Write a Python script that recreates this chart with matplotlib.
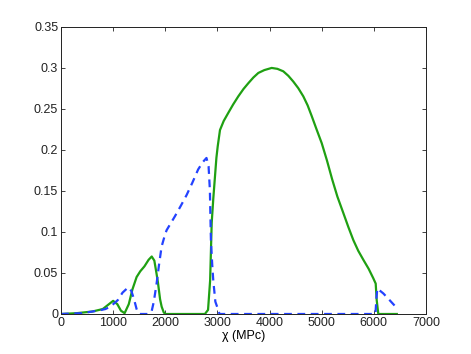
import matplotlib
matplotlib.use("Agg")
import matplotlib.pyplot as plt

plt.rcParams['font.family'] = ['Liberation Sans', 'DejaVu Sans']

green_x = [0, 300, 600, 800, 900, 1000, 1080, 1150, 1220, 1300, 1370, 1450, 1520, 1600, 1680, 1740,
           1790, 1830, 1860, 1900, 1930, 1970, 2000, 2760, 2820, 2860, 2890, 2920, 2953, 2980, 3005,
           3049, 3120, 3209, 3300, 3400, 3500, 3592, 3690, 3784, 3900, 4040, 4150, 4263, 4360, 4455,
           4550, 4647, 4730, 4808, 4900, 5000, 5100, 5200, 5300, 5414, 5510, 5606, 5700, 5798, 5900,
           5989, 6035, 6054, 6085, 6440]
green_y = [0, 0.001, 0.003, 0.006, 0.011, 0.016, 0.012, 0.004, 0.001, 0.012, 0.03, 0.045, 0.052, 0.058,
           0.066, 0.07, 0.065, 0.05, 0.038, 0.018, 0.009, 0.002, 0, 0, 0.005, 0.041, 0.111, 0.14, 0.1675,
           0.19, 0.204, 0.224, 0.235, 0.245, 0.255, 0.265, 0.274, 0.281, 0.288, 0.2935, 0.297, 0.2996,
           0.2985, 0.2955, 0.290, 0.283, 0.275, 0.265, 0.254, 0.241, 0.225, 0.208, 0.187, 0.164, 0.143,
           0.123, 0.106, 0.090, 0.077, 0.066, 0.055, 0.0435, 0.037, 0.017, 0, 0]

blue_x = [0, 400, 700, 850, 950, 1090, 1180, 1290, 1350, 1400, 1450, 1480, 1520, 1650, 1700, 1737,
          1780, 1833, 1880, 1929, 1992, 2025, 2100, 2185, 2300, 2410, 2520, 2630, 2720, 2790, 2830,
          2855, 2875, 2900, 2920, 2960, 3015, 3040, 6030, 6050, 6066, 6182, 6300, 6430]
blue_y = [0, 0.001, 0.004, 0.006, 0.009, 0.017, 0.026, 0.0325, 0.028, 0.018, 0.006, 0.001, 0, 0, 0.001,
          0.003, 0.015, 0.037, 0.06, 0.082, 0.096, 0.102, 0.11, 0.119, 0.132, 0.145, 0.16, 0.176, 0.185,
          0.19, 0.18, 0.151, 0.09, 0.06, 0.041, 0.015, 0.005, 0, 0, 0.02, 0.031, 0.025, 0.017, 0.008]

x_ticks = [0, 1000, 2000, 3000, 4000, 5000, 6000, 7000]
y_ticks = [0, 0.05, 0.1, 0.15, 0.2, 0.25, 0.3, 0.35]
y_tick_labels = ['0', '0.05', '0.1', '0.15', '0.2', '0.25', '0.3', '0.35']

fig = plt.figure(figsize=(4.71, 3.54), dpi=100)
ax = fig.add_axes([0.1295, 0.113, 0.775, 0.812])

ax.plot(green_x, green_y, color='#1fa012', lw=1.6, solid_joinstyle='round')
ax.plot(blue_x, blue_y, color='#2342ff', lw=1.6, linestyle=(0, (3.5, 2.5)))

ax.set_xlim(0, 7000)
ax.set_ylim(0, 0.35)
ax.set_xticks(x_ticks)
ax.set_xticklabels([str(t) for t in x_ticks])
ax.set_yticks(y_ticks)
ax.set_yticklabels(y_tick_labels)
ax.tick_params(direction='in', top=True, right=True, length=3, width=0.6,
               labelsize=9, colors='#222222', pad=2)
for s in ax.spines.values():
    s.set_linewidth(0.7)
    s.set_color('#222222')
ax.set_xlabel('χ (MPc)', fontsize=9, labelpad=1)

fig.savefig('out.png', dpi=100)
